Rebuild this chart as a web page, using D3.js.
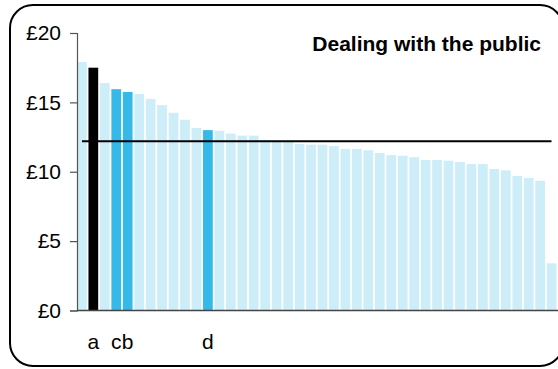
<!DOCTYPE html>
<html>
<head>
<meta charset="utf-8">
<script src="https://cdn.jsdelivr.net/npm/d3@7"></script>
<style>
  html, body { margin: 0; padding: 0; background: #fff; }
  svg { display: block; font-family: "Liberation Sans", Arial, sans-serif; }
</style>
</head>
<body>
<svg id="chart" width="558" height="369"></svg>
<script>
const title = "Dealing with the public";
const values = [17.9, 17.5, 16.4, 15.95, 15.75, 15.6, 15.25, 14.8, 14.25, 13.75,
  13.15, 13.0, 12.95, 12.75, 12.6, 12.6, 12.3, 12.25, 12.15, 12.0,
  11.95, 11.95, 11.85, 11.65, 11.65, 11.55, 11.35, 11.2, 11.15, 11.05,
  10.85, 10.85, 10.8, 10.7, 10.55, 10.55, 10.2, 10.1, 9.7, 9.55,
  9.35, 3.4];
const barLabels = ["", "a", "", "c", "b", "", "", "", "", "", "", "d"];
const highlight = {1: "black", 3: "blue", 4: "blue", 11: "blue"};
const referenceValue = 12.2;
const yTicks = [0, 5, 10, 15, 20];

const colors = { normal: "#cdedf9", blue: "#35b9e8", black: "#000000" };

const svg = d3.select("#chart");

// frame
svg.append("rect")
  .attr("x", 10).attr("y", 5)
  .attr("width", 553).attr("height", 361)
  .attr("rx", 23).attr("ry", 23)
  .attr("fill", "none").attr("stroke", "#000").attr("stroke-width", 2);

const x = d3.scaleBand()
  .domain(values.map((d, i) => i))
  .range([77, 556.5])
  .paddingInner(0.15)
  .paddingOuter(0);

const y = d3.scaleLinear().domain([0, 20]).range([310.5, 33]);

// bars
svg.append("g").selectAll("rect")
  .data(values)
  .join("rect")
  .attr("x", (d, i) => x(i))
  .attr("y", d => y(d))
  .attr("width", x.bandwidth())
  .attr("height", d => y(0) - y(d))
  .attr("fill", (d, i) => colors[highlight[i] || "normal"]);

// y axis
const yAxis = d3.axisLeft(y)
  .tickValues(yTicks)
  .tickFormat(d => "£" + d)
  .tickSize(7)
  .tickPadding(9);

const gy = svg.append("g")
  .attr("transform", "translate(77,0)")
  .call(yAxis);
gy.select(".domain").attr("stroke", "#555").attr("stroke-width", 1.2);
gy.selectAll(".tick line").attr("stroke", "#555").attr("stroke-width", 1.2);
gy.selectAll(".tick text")
  .attr("fill", "#000")
  .style("font-size", "21px")
  .style("font-family", "'Liberation Sans', Arial, sans-serif");

// baseline
svg.append("line")
  .attr("x1", 77).attr("x2", 558)
  .attr("y1", y(0)).attr("y2", y(0))
  .attr("stroke", "#444").attr("stroke-width", 1.5);

// reference line
svg.append("line")
  .attr("x1", x(0) + 5).attr("x2", x.range()[1] - 5)
  .attr("y1", y(referenceValue)).attr("y2", y(referenceValue))
  .attr("stroke", "#000").attr("stroke-width", 2.2);

// bar labels
svg.append("g").selectAll("text")
  .data(barLabels.map((l, i) => ({l, i})).filter(d => d.l))
  .join("text")
  .attr("x", d => x(d.i) + x.bandwidth() / 2)
  .attr("y", 349)
  .attr("text-anchor", "middle")
  .style("font-size", "21px")
  .text(d => d.l);

// title
svg.append("text")
  .attr("x", 541).attr("y", 51)
  .attr("text-anchor", "end")
  .style("font-size", "21px")
  .style("font-weight", "bold")
  .text(title);
</script>
</body>
</html>
